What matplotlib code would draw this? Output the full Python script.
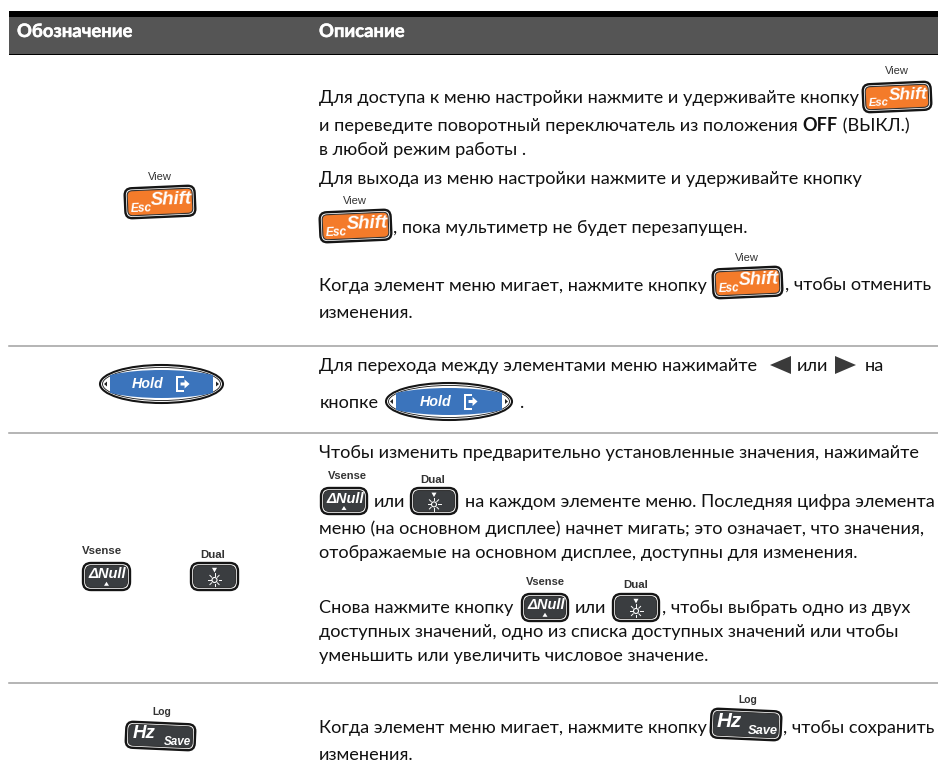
import matplotlib
matplotlib.use("Agg")
import matplotlib.pyplot as plt
import matplotlib.patheffects as pe
from matplotlib.patches import FancyBboxPatch, Rectangle, Polygon, Ellipse
from matplotlib.transforms import Affine2D
import math

FONT = ["Lato", "Noto Sans", "DejaVu Sans"]
BTN = "Liberation Sans"
headers = ["Обозначение", "Описание"]
body_lines = [
    "Для доступа к меню настройки нажмите и удерживайте кнопку",
    "и переведите поворотный переключатель из положения ",
    "OFF",
    " (ВЫКЛ.)",
    "в любой режим работы .",
    "Для выхода из меню настройки нажмите и удерживайте кнопку",
    ", пока мультиметр не будет перезапущен.",
    "Когда элемент меню мигает, нажмите кнопку",
    ", чтобы отменить",
    "изменения.",
    "Для перехода между элементами меню нажимайте",
    "или",
    "на",
    "кнопке",
    ".",
    "Чтобы изменить предварительно установленные значения, нажимайте",
    "или",
    "на каждом элементе меню. Последняя цифра элемента",
    "меню (на основном дисплее) начнет мигать; это означает, что значения,",
    "отображаемые на основном дисплее, доступны для изменения.",
    "Снова нажмите кнопку",
    "или",
    ", чтобы выбрать одно из двух",
    "доступных значений, одно из списка доступных значений или чтобы",
    "уменьшить или увеличить числовое значение.",
    "Когда элемент меню мигает, нажмите кнопку",
    ", чтобы сохранить",
    "изменения.",
]
body_x = [319, 319, 0, 0, 319, 319, 393, 319, 785, 319, 319, 797, 865, 320, 520, 319, 374, 465, 319, 319, 319, 575, 662, 319, 319, 319, 783, 319]
body_y = [103, 131, 131, 131, 155, 184, 233, 291, 291, 318, 371, 371, 371, 408, 408, 458, 507, 507, 534, 558, 613, 613, 613, 637, 661, 733, 733, 760]
FS = 13.05
INK = "#111111"

fig = plt.figure(figsize=(9.38, 7.73), dpi=100)
ax = fig.add_axes([0, 0, 1, 1])
ax.set_xlim(0, 938)
ax.set_ylim(773, 0)
ax.axis("off")

ax.add_patch(Rectangle((9, 11), 929, 44, fc="black", ec="none"))
ax.add_patch(Rectangle((9, 17), 929, 37, fc="#555555", ec="none"))
for x, h in zip([17, 319], headers):
    ax.text(x, 37, h, color="white", fontsize=13.3, fontweight="bold", family=FONT,
            path_effects=[pe.withStroke(linewidth=0.35, foreground="white")])

for y in [346, 433, 683]:
    ax.plot([9, 938], [y, y], color="#a0a0a0", lw=1.1)

for i, (s, x, y) in enumerate(zip(body_lines, body_x, body_y)):
    if s == "OFF":
        t0 = ax.texts[-1]
        fig.canvas.draw()
        x = t0.get_window_extent().x1
        t1 = ax.text(x, y, s, fontsize=FS, family=FONT, fontweight="bold", color=INK)
        x2 = t1.get_window_extent().x1
        ax.text(x2, y, body_lines[i+1], fontsize=FS, family=FONT, color=INK)
        continue
    if s == " (ВЫКЛ.)":
        continue
    ax.text(x, y, s, fontsize=FS, family=FONT, color=INK)

def rot(cx, cy, a):
    return Affine2D().rotate_deg_around(cx, cy, a) + ax.transData

def button(x0, y0, x1, y1, face, r=7, angle=0):
    t = rot((x0+x1)/2, (y0+y1)/2, angle)
    ax.add_patch(FancyBboxPatch((x0+1, y0+1), x1-x0-2, y1-y0-2, boxstyle=f"round,pad=0,rounding_size={r}", fc="white", ec="#151515", lw=1.7, transform=t))
    ax.add_patch(FancyBboxPatch((x0+3.5, y0+3.5), x1-x0-7, y1-y0-7, boxstyle=f"round,pad=0,rounding_size={r-2}", fc=face, ec="#333333", lw=0.8, transform=t))

def label(cx, cy, s, bold=False, size=8):
    ax.text(cx, cy, s, ha="center", va="center", fontsize=size, family=BTN, color="#333333", fontweight="bold" if bold else "normal")

def btxt(x, y, s, size, angle=0):
    ax.text(x, y, s, color="white", fontsize=size, fontweight="bold", style="italic", family=BTN, ha="center", va="center", rotation=angle)

def shift_btn(x0, y0, x1, y1):
    button(x0, y0, x1, y1, "#f47b2a", angle=-2.5)
    w, h = x1-x0, y1-y0
    btxt(x0+w*0.66, y0+h*0.42, "Shift", h*0.42, 2)
    btxt(x0+w*0.24, y0+h*0.70, "Esc", h*0.27, 2)

def hold_btn(x0, y0, x1, y1):
    cx, cy = (x0+x1)/2, (y0+y1)/2
    w, h = x1-x0, y1-y0
    ax.add_patch(Ellipse((cx, cy), w, h, fc="white", ec="#151515", lw=1.5))
    ax.add_patch(Ellipse((cx, cy), w-5, h-5, fc="none", ec="#151515", lw=0.6))
    blue = Ellipse((cx, cy), w*1.08, h-10, fc="#3b74bc", ec="none")
    ax.add_patch(blue)
    blue.set_clip_path(Rectangle((x0+10, y0), w-20, h, transform=ax.transData))
    btxt(x0+w*0.39, cy, "Hold", 10.3)
    dx = x0 + w*0.655
    ax.add_patch(Polygon([(dx-5, cy-8), (dx+3, cy-8), (dx+3, cy-6), (dx-2.5, cy-6), (dx-2.5, cy+6), (dx+3, cy+6), (dx+3, cy+8), (dx-5, cy+8)], fc="white", ec="none"))
    ax.add_patch(Polygon([(dx, cy-1.5), (dx+4, cy-1.5), (dx+4, cy-4.5), (dx+9, cy), (dx+4, cy+4.5), (dx+4, cy+1.5), (dx, cy+1.5)], fc="white", ec="none"))
    ax.add_patch(Polygon([(x0+4, cy), (x0+7, cy-2.5), (x0+7, cy+2.5)], fc="#222222", ec="none"))
    ax.add_patch(Polygon([(x1-4, cy), (x1-7, cy-2.5), (x1-7, cy+2.5)], fc="#222222", ec="none"))

def null_btn(x0, y0, x1, y1):
    button(x0, y0, x1, y1, "#3a3d40", r=8)
    w, h = x1-x0, y1-y0
    cx = (x0+x1)/2
    btxt(cx+1, y0+h*0.42, "ΔNull", 10.5)
    ax.add_patch(Polygon([(cx, y0+h*0.68), (cx-2.5, y0+h*0.82), (cx+2.5, y0+h*0.82)], fc="white", ec="none"))

def dual_btn(x0, y0, x1, y1):
    button(x0, y0, x1, y1, "#3a3d40", r=8)
    h = y1-y0
    cx, sy = (x0+x1)/2, y0+h*0.62
    ax.add_patch(Polygon([(cx-2.5, y0+h*0.2), (cx+2.5, y0+h*0.2), (cx, y0+h*0.36)], fc="white", ec="none"))
    ax.add_patch(Ellipse((cx, sy), 5, 5, fc="none", ec="white", lw=0.8))
    for k in range(8):
        a = k * math.pi / 4
        ax.plot([cx+4*math.cos(a), cx+6.5*math.cos(a)], [sy+4*math.sin(a), sy+6.5*math.sin(a)], color="white", lw=0.7)

def hz_btn(x0, y0, x1, y1):
    button(x0, y0, x1, y1, "#3a3d40", angle=2.5)
    w, h = x1-x0, y1-y0
    btxt(x0+w*0.27, y0+h*0.40, "Hz", h*0.48)
    btxt(x0+w*0.74, y0+h*0.72, "Save", h*0.30)

# left column
label(160, 177, "View"); shift_btn(124, 186, 196, 218)
hold_btn(100, 365, 223, 403)
label(102, 551, "Vsense", True, 8.2); null_btn(82, 562, 131, 591)
label(213, 555, "Dual", True, 8.2); dual_btn(190, 562, 239, 591)
label(162, 712, "Log", True, 7.4); hz_btn(125, 722, 196, 750)

# inline buttons
label(897, 71, "View"); shift_btn(862, 82, 932, 112)
label(355, 201, "View"); shift_btn(319, 210, 392, 242)
label(747, 258, "View"); shift_btn(712, 267, 783, 298)
hold_btn(386, 383, 512, 420)
label(347, 476, "Vsense", True, 8.0); null_btn(320, 487, 368, 515)
label(433, 480, "Dual", True, 8.2); dual_btn(410, 487, 458, 515)
label(545, 582, "Vsense", True, 8.0); null_btn(521, 593, 569, 622)
label(636, 585, "Dual", True, 8.2); dual_btn(612, 593, 660, 622)
label(748, 700, "Log", True, 7.4); hz_btn(710, 709, 782, 740)

# arrows
ax.add_patch(Polygon([(770, 365), (791, 356), (791, 374)], fc="#3a3a3a", ec="none"))
ax.add_patch(Polygon([(856, 365), (835, 356), (835, 374)], fc="#3a3a3a", ec="none"))

fig.savefig("out.png", dpi=100)
